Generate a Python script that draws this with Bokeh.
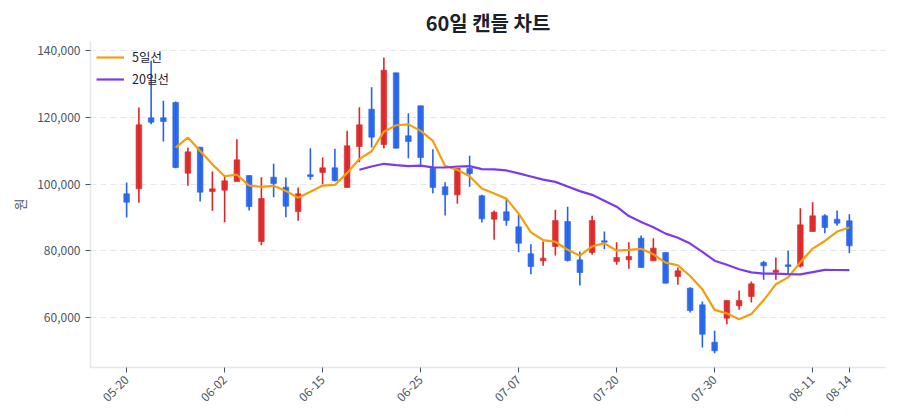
"""60-day candle chart with 5 / 20 day moving averages."""
import math

import pandas as pd
from bokeh.embed import file_html
from bokeh.models import ColumnDataSource, FixedTicker, Legend, LegendItem, NumeralTickFormatter, Range1d
from bokeh.plotting import figure
from bokeh.resources import INLINE

FONT = "Noto Sans CJK KR"

# OHLC values (60 sessions)
opens = [
    97100, 98600, 119900, 119900, 124500, 103300, 111100, 97800, 98200, 100800,
    102600, 82800, 102100, 99100, 91800, 102800, 103500, 104900, 99000, 111300,
    122500, 111900, 133400, 114500, 123500, 104700, 99200, 96800, 104700, 96500,
    89500, 91700, 87200, 79100, 77000, 81300, 88800, 77300, 79500, 83000,
    76800, 77300, 83800, 77000, 79500, 72300, 68800, 63800, 52600, 59800,
    63500, 66300, 76500, 73600, 75800, 75400, 85800, 90500, 89500, 89000,
]
highs = [
    100500, 123000, 137000, 125000, 124800, 111000, 111100, 103800, 102300, 113500,
    102600, 102100, 106100, 102000, 99000, 110800, 108000, 110600, 116000, 123100,
    129100, 138000, 133400, 121300, 123500, 110500, 100600, 104800, 108500, 96800,
    92100, 95300, 90800, 82000, 82800, 92300, 93200, 79800, 90500, 85800,
    82600, 82600, 84600, 83800, 79500, 75000, 69100, 64800, 56000, 65100,
    68100, 70800, 77000, 78000, 80100, 92800, 94600, 91000, 92100, 91000,
]
lows = [
    90000, 94400, 118000, 112800, 104800, 99500, 94800, 92000, 88600, 100800,
    92100, 81700, 96100, 90100, 89000, 101300, 100000, 100800, 99000, 106600,
    111000, 110700, 110800, 107800, 105600, 97300, 90600, 94100, 99200, 88500,
    83300, 87500, 79600, 73000, 75500, 78600, 76800, 69600, 78800, 80500,
    75800, 74600, 75000, 77000, 70300, 69800, 61500, 51000, 49300, 58000,
    62300, 64500, 71300, 71300, 73100, 75000, 85800, 85300, 87500, 79300,
]
closes = [
    94600, 117800, 118600, 118800, 105000, 109700, 97600, 98600, 101000, 107300,
    93300, 95700, 100200, 93400, 97100, 102300, 104900, 101100, 111500, 117800,
    114100, 134200, 110800, 112800, 108000, 99000, 96800, 104800, 103200, 89600,
    91600, 89100, 82300, 75300, 77800, 89100, 77100, 73500, 89100, 82600,
    78000, 78300, 75000, 80800, 70300, 74000, 62100, 55000, 50000, 65100,
    65100, 70100, 75500, 74200, 75300, 87800, 90500, 87000, 88300, 81500,
]

tick_positions = [0, 8, 16, 24, 32, 40, 48, 56, 59]
tick_labels = ["05-20", "06-02", "06-15", "06-25", "07-07", "07-20", "07-30", "08-11", "08-14"]
y_ticks = [60000, 80000, 100000, 120000, 140000]

UP = "#dc2626"
DOWN = "#2563eb"

df = pd.DataFrame({"open": opens, "high": highs, "low": lows, "close": closes})
df["x"] = range(len(df))
df["top"] = df[["open", "close"]].max(axis=1)
df["bottom"] = df[["open", "close"]].min(axis=1)
df["color"] = [UP if c >= o else DOWN for o, c in zip(df["open"], df["close"])]
df["ma5"] = df["close"].rolling(5).mean()
df["ma20"] = df["close"].rolling(20).mean()
src = ColumnDataSource(df)

p = figure(
    frame_width=795,
    frame_height=326,
    output_backend="svg",
    toolbar_location=None,
    x_range=Range1d(-2.95, 61.95),
    y_range=Range1d(45000, 142800),
    min_border_left=90,
    min_border_right=6,
    min_border_top=40,
    min_border_bottom=44,
)
p.title.text = "60일 캔들 차트"
p.title.align = "center"
p.title.text_font = FONT
p.title.text_font_size = "20px"
p.title.text_font_style = "bold"
p.title.text_color = "#1a202c"
p.outline_line_color = None

p.segment("x", "high", "x", "low", source=src, line_color="color", line_width=1.6)
p.vbar("x", 0.46, "top", "bottom", source=src, fill_color="color",
       line_color="color", fill_alpha=0.95, line_alpha=0.6)

ma5 = p.line("x", "ma5", source=src, line_color="#f59e0b", line_width=2.2)
ma20 = p.line("x", "ma20", source=src, line_color="#7c3aed", line_width=2.2)

legend = Legend(items=[LegendItem(label="5일선", renderers=[ma5]),
                       LegendItem(label="20일선", renderers=[ma20])],
                location="top_left")
legend.border_line_color = None
legend.background_fill_alpha = 0
legend.label_text_font = FONT
legend.label_text_font_size = "12.5px"
legend.label_text_color = "#1a202c"
legend.glyph_width = 28
legend.glyph_height = 16
legend.label_height = 16
legend.label_standoff = 8
legend.spacing = 3
legend.margin = 6
legend.padding = 4
p.add_layout(legend)

p.xgrid.grid_line_color = None
p.ygrid.grid_line_color = "#e5e7eb"
p.ygrid.grid_line_dash = "6 4"
p.ygrid.ticker = FixedTicker(ticks=y_ticks)

for ax in (p.xaxis, p.yaxis):
    ax.axis_line_color = "#e2e8f0"
    ax.axis_line_width = 1.5
    ax.major_tick_line_color = "#4a5568"
    ax.major_tick_in = 0
    ax.major_tick_out = 5
    ax.minor_tick_line_color = None
    ax.major_label_text_font = FONT
    ax.major_label_text_font_size = "12px"
    ax.major_label_text_color = "#4a5568"

p.xaxis.ticker = FixedTicker(ticks=tick_positions)
p.xaxis.major_label_overrides = {t: l for t, l in zip(tick_positions, tick_labels)}
p.xaxis.major_label_orientation = math.pi / 4

p.yaxis.ticker = FixedTicker(ticks=y_ticks)
p.yaxis.formatter = NumeralTickFormatter(format="0,0")
p.yaxis.axis_label = "원"
p.yaxis.axis_label_text_font = FONT
p.yaxis.axis_label_text_font_size = "13px"
p.yaxis.axis_label_text_font_style = "normal"
p.yaxis.axis_label_text_color = "#4a5568"

open("out.html", "w").write(file_html(p, INLINE))
